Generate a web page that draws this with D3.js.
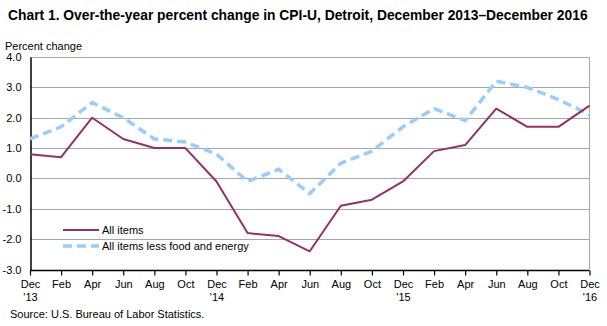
<!DOCTYPE html>
<html>
<head>
<meta charset="utf-8">
<script src="https://cdn.jsdelivr.net/npm/d3@7"></script>
<style>
  body { margin: 0; background: #fff; }
  svg { display: block; font-family: "Liberation Sans", Arial, sans-serif; }
  .title { font-weight: bold; font-size: 15px; }
  .lbl { font-size: 11px; fill: #000; }
</style>
</head>
<body>
<div id="chart"></div>
<script>
/* bimonthly months, Dec 2013 - Dec 2016 */
var months = ["Dec\n'13", "Feb", "Apr", "Jun", "Aug", "Oct", "Dec\n'14", "Feb", "Apr", "Jun",
              "Aug", "Oct", "Dec\n'15", "Feb", "Apr", "Jun", "Aug", "Oct", "Dec\n'16"];
var allItems = [0.8, 0.7, 2.0, 1.3, 1.0, 1.0, -0.1, -1.8, -1.9, -2.4,
                -0.9, -0.7, -0.1, 0.9, 1.1, 2.3, 1.7, 1.7, 2.4];
var coreItems = [1.3, 1.7, 2.5, 2.0, 1.3, 1.2, 0.8, -0.1, 0.3, -0.5,
                 0.5, 0.9, 1.7, 2.3, 1.9, 3.2, 3.0, 2.6, 2.1];
var yTicks = [-3, -2, -1, 0, 1, 2, 3, 4];
var seriesNames = ["All items", "All items less food and energy"];

var W = 607, H = 326;
var plot = {left: 30, right: 589.5, top: 57, bottom: 269.5};

function translate(x, y) { return "translate(" + x + "," + y + ")"; }

var svg = d3.select("#chart").append("svg")
    .attr("width", W).attr("height", H);

var x = d3.scalePoint()
    .domain(d3.range(months.length))
    .range([plot.left, plot.right]);

var y = d3.scaleLinear()
    .domain([-3, 4])
    .range([plot.bottom, plot.top]);

/* title, squeezed horizontally to a narrow bold look */
var title = svg.append("text")
    .attr("class", "title")
    .attr("x", 0).attr("y", 0)
    .text("Chart 1. Over-the-year percent change in CPI-U, Detroit, December 2013\u2013December 2016");
var titleScale = 580 / title.node().getComputedTextLength();
title.attr("transform", translate(8, 20) + " scale(" + titleScale + ",1)");

svg.append("text")
    .attr("class", "lbl")
    .attr("x", 5).attr("y", 50)
    .text("Percent change");

/* gridlines */
svg.append("g")
    .selectAll("line")
    .data(yTicks.filter(function(d) { return d > -3; }))
  .join("line")
    .attr("x1", plot.left).attr("x2", plot.right)
    .attr("y1", function(d) { return Math.round(y(d)) + 0.5; })
    .attr("y2", function(d) { return Math.round(y(d)) + 0.5; })
    .attr("stroke", "#a6a6a6").attr("stroke-width", 1);

/* right border */
svg.append("line")
    .attr("x1", plot.right).attr("x2", plot.right)
    .attr("y1", Math.round(y(4)) + 0.5).attr("y2", plot.bottom)
    .attr("stroke", "#a6a6a6");

/* y axis */
var yAxis = d3.axisLeft(y)
    .tickValues(yTicks)
    .tickFormat(d3.format(".1f"))
    .tickSize(0)
    .tickPadding(9);

svg.append("g")
    .attr("transform", translate(plot.left + 0.5, 0))
    .call(yAxis)
    .call(function(g) {
        g.select(".domain").attr("stroke", "#000").attr("stroke-width", 1.5);
        g.selectAll("text").attr("class", "lbl").attr("font-family", null).attr("font-size", null)
            .text(function(d) { return d3.format(".1f")(d).replace("\u2212", "-"); });
    });

/* x axis */
var xAxis = d3.axisBottom(x)
    .tickSize(5)
    .tickFormat("");

var gx = svg.append("g")
    .attr("transform", translate(0, Math.round(y(-3)) + 0.5))
    .call(xAxis);
gx.select(".domain").attr("stroke", "#000").attr("stroke-width", 1.5).attr("d",
    "M" + plot.left + ",0H" + plot.right);
gx.selectAll(".tick line").attr("stroke", "#000").attr("stroke-width", 1.2);

gx.selectAll(".tick").each(function(d) {
    var parts = months[d].split("\n");
    var t = d3.select(this).append("text")
        .attr("class", "lbl")
        .attr("text-anchor", "middle")
        .attr("font-family", null).attr("font-size", null);
    parts.forEach(function(p, i) {
        t.append("tspan").attr("x", 0).attr("y", 17 + i * 13).text(p);
    });
});

/* series lines */
var line = d3.line()
    .x(function(d, i) { return x(i); })
    .y(function(d) { return y(d); });

svg.append("path")
    .datum(coreItems)
    .attr("fill", "none")
    .attr("stroke", "#99ccff")
    .attr("stroke-width", 3.5)
    .attr("stroke-dasharray", "9,5")
    .attr("d", line);

svg.append("path")
    .datum(allItems)
    .attr("fill", "none")
    .attr("stroke", "#953163")
    .attr("stroke-width", 2)
    .attr("stroke-linejoin", "round")
    .attr("d", line);

/* legend */
var legend = svg.append("g").attr("transform", translate(63, 230));
var legendStyles = [
    {stroke: "#953163", width: 2, dash: null},
    {stroke: "#99ccff", width: 3.5, dash: "9,5"}
];
seriesNames.forEach(function(name, i) {
    var row = legend.append("g").attr("transform", translate(0, i * 16));
    row.append("line")
        .attr("x1", 0).attr("x2", 36)
        .attr("stroke", legendStyles[i].stroke)
        .attr("stroke-width", legendStyles[i].width)
        .attr("stroke-dasharray", legendStyles[i].dash);
    row.append("text")
        .attr("class", "lbl")
        .attr("x", 39).attr("y", 4)
        .text(name);
});

/* source note */
svg.append("text")
    .attr("class", "lbl")
    .attr("x", 10).attr("y", 318)
    .text("Source: U.S. Bureau of Labor Statistics.");
</script>
</body>
</html>
